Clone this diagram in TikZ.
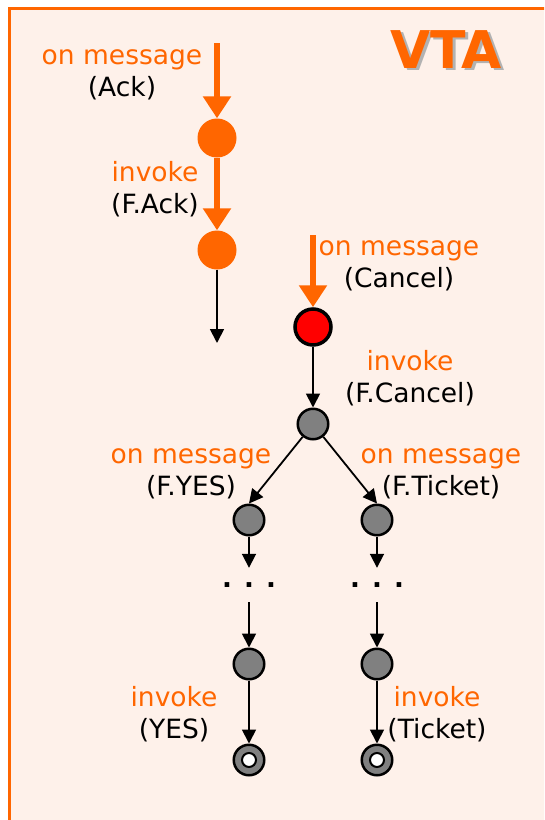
\documentclass[tikz,border=0pt]{standalone}
\usepackage{fontspec}
\setmainfont{DejaVu Sans}
\usetikzlibrary{arrows.meta}

\definecolor{vtaorange}{RGB}{255,102,0}
\definecolor{vtabg}{RGB}{254,241,234}
\definecolor{vtagray}{RGB}{128,128,128}

\begin{document}
\begin{tikzpicture}[x=1pt,y=-1pt,
    lbl/.style={align=center,inner sep=0pt,font=\fontsize{26.5}{32}\selectfont},
    hot/.style={circle,fill=vtaorange,minimum size=39pt,inner sep=0pt},
    act/.style={circle,draw,line width=2.5pt,fill=vtagray,minimum size=30.5pt,inner sep=0pt},
    hole/.style={circle,draw,line width=2pt,fill=white,minimum size=14pt,inner sep=0pt},
    go/.style={line width=1.8pt,-{Triangle[length=14pt,width=14pt]}},
    msg/.style={vtaorange,line width=5.5pt,-{Triangle[length=22pt,width=27pt]}}]

    % Поле и рамка
    \useasboundingbox (0,0) rectangle (544,820);
    \clip (0,0) rectangle (544,820);
    \draw[vtaorange,line width=3pt,fill=vtabg] (9,8) rectangle (600,900);

    % Заголовок с тенью
    \node[font=\fontsize{52}{60}\bfseries,text=black!30] (titsh) at (449,52) {VTA};
    \node[font=\fontsize{52}{60}\bfseries,text=vtaorange] (tit) at (446,50) {VTA};

    % Ветка Ack
    \coordinate (inAck) at (217,43);
    \node[hot] (a1) at (217,138) {};
    \node[hot] (a2) at (217,250) {};
    \coordinate (outAck) at (217,343);
    \draw[msg] (inAck) -- (a1);
    \draw[msg] (a1) -- (a2);
    \draw[go] (a2) -- (outAck);
    \node[lbl] (lAck) at (122,75) {\textcolor{vtaorange}{on message}\\(Ack)};
    \node[lbl] (lFAck) at (155,189) {\textcolor{vtaorange}{invoke}\\(F.Ack)};

    % Ветка Cancel
    \coordinate (inCancel) at (313,235);
    \node[circle,draw,line width=3.5pt,fill=red,minimum size=36pt,inner sep=0pt] (c0) at (313,327) {};
    \node[act] (c1) at (313,424) {};
    \draw[msg] (inCancel) -- (c0);
    \draw[go] (c0) -- (c1);
    \node[lbl] (lCancel) at (399,266) {\textcolor{vtaorange}{on message}\\(Cancel)};
    \node[lbl] (lFCancel) at (410,378) {\textcolor{vtaorange}{invoke}\\(F.Cancel)};

    % Левая ветка (YES)
    \node[act] (y1) at (249,520) {};
    \node[font=\fontsize{26}{32}\bfseries,minimum height=34pt,inner sep=0pt] (y2) at (249,585) {. . .};
    \node[act] (y3) at (249,664) {};
    \node[act] (y4) at (249,760) {};
    \node[hole] (y4h) at (y4) {};
    \draw[go] (c1) -- (y1.north);
    \draw[go] (y1) -- (y2);
    \draw[go] (y2) -- (y3);
    \draw[go] (y3) -- (y4);
    \node[lbl] (lFYES) at (191,474) {\textcolor{vtaorange}{on message}\\(F.YES)};
    \node[lbl] (lYES) at (174,714) {\textcolor{vtaorange}{invoke}\\(YES)};

    % Правая ветка (Ticket)
    \node[act] (t1) at (377,520) {};
    \node[font=\fontsize{26}{32}\bfseries,minimum height=34pt,inner sep=0pt] (t2) at (377,585) {. . .};
    \node[act] (t3) at (377,664) {};
    \node[act] (t4) at (377,760) {};
    \node[hole] (t4h) at (t4) {};
    \draw[go] (c1) -- (t1.north);
    \draw[go] (t1) -- (t2);
    \draw[go] (t2) -- (t3);
    \draw[go] (t3) -- (t4);
    \node[lbl] (lFTicket) at (441,474) {\textcolor{vtaorange}{on message}\\(F.Ticket)};
    \node[lbl] (lTicket) at (437,714) {\textcolor{vtaorange}{invoke}\\(Ticket)};

\end{tikzpicture}
\end{document}
